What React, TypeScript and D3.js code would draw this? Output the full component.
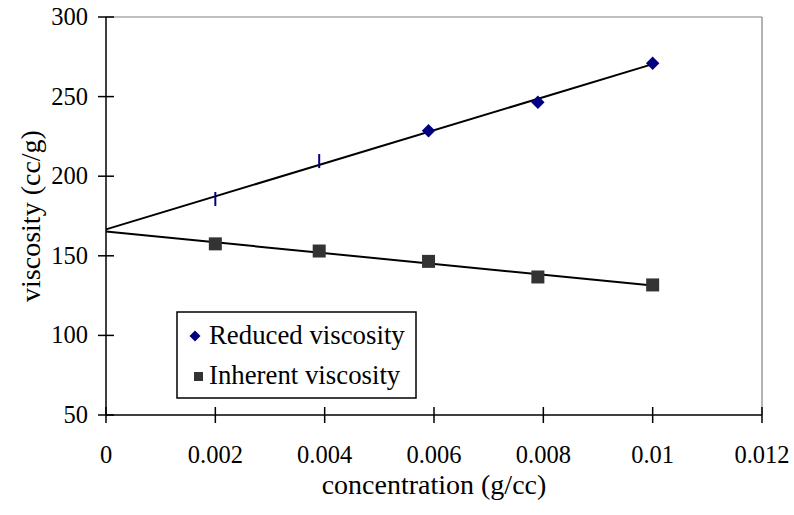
import React from "react";
import * as d3 from "d3";

const concentration = [0.002, 0.0039, 0.0059, 0.0079, 0.01];
const reducedViscosity = [185.7, 209.5, 228.5, 246.5, 271];
const inherentViscosity = [157.5, 153, 146.5, 136.7, 131.7];
const xTicks = [0, 0.002, 0.004, 0.006, 0.008, 0.01, 0.012];
const yTicks = [50, 100, 150, 200, 250, 300];
const seriesNames = ["Reduced viscosity", "Inherent viscosity"];

const W = 794;
const H = 515;
const FONT = "'Liberation Serif', 'Times New Roman', serif";

function fit(xs: number[], ys: number[]) {
  const mx = d3.mean(xs)!;
  const my = d3.mean(ys)!;
  let num = 0;
  let den = 0;
  xs.forEach((x, i) => {
    num += (x - mx) * (ys[i] - my);
    den += (x - mx) * (x - mx);
  });
  const b = num / den;
  return { a: my - b * mx, b };
}

export default function App() {
  const x = d3.scaleLinear().domain([0, 0.012]).range([106, 762]);
  const y = d3.scaleLinear().domain([50, 300]).range([415, 17]);

  const fr = fit(concentration, reducedViscosity);
  const fi = fit(concentration, inherentViscosity);
  const x0 = 0;
  const x1 = d3.max(concentration)!;
  const line = d3
    .line<[number, number]>()
    .x((d) => x(d[0]))
    .y((d) => y(d[1]));

  const diamond = d3.symbol().type(d3.symbolDiamond2);

  return (
    <svg
      width={W}
      height={H}
      style={{ position: "absolute", left: 0, top: 0, background: "#fff" }}
      fontFamily={FONT}
    >
      {/* plot border (top & right) */}
      <line x1={x(0)} x2={x(0.012)} y1={y(300)} y2={y(300)} stroke="#808080" strokeWidth={1.2} />
      <line x1={x(0.012)} x2={x(0.012)} y1={y(300)} y2={y(50)} stroke="#808080" strokeWidth={1.2} />

      {/* axes */}
      <line x1={x(0)} x2={x(0.012)} y1={y(50)} y2={y(50)} stroke="#000" strokeWidth={1.5} />
      <line x1={x(0)} x2={x(0)} y1={y(300)} y2={y(50)} stroke="#000" strokeWidth={1.5} />

      {xTicks.map((t) => (
        <g key={"xt" + t}>
          <line x1={x(t)} x2={x(t)} y1={y(50) - 8} y2={y(50) + 8} stroke="#000" strokeWidth={1.5} />
          <text x={x(t)} y={463} textAnchor="middle" fontSize={24.5}>
            {String(t)}
          </text>
        </g>
      ))}
      {yTicks.map((t) => (
        <g key={"yt" + t}>
          <line x1={x(0) - 8} x2={x(0) + 8} y1={y(t)} y2={y(t)} stroke="#000" strokeWidth={1.5} />
          <text x={88} y={y(t) + 8} textAnchor="end" fontSize={24.5}>
            {String(t)}
          </text>
        </g>
      ))}

      <text x={434} y={494} textAnchor="middle" fontSize={28}>
        concentration (g/cc)
      </text>
      <text
        transform={`translate(40, ${(y(300) + y(50)) / 2}) rotate(-90)`}
        textAnchor="middle"
        fontSize={28}
      >
        viscosity (cc/g)
      </text>

      {/* trend lines */}
      <path
        d={line([
          [x0, fr.a + fr.b * x0],
          [x1, fr.a + fr.b * x1],
        ])!}
        stroke="#000"
        strokeWidth={2}
        fill="none"
      />
      <path
        d={line([
          [x0, fi.a + fi.b * x0],
          [x1, fi.a + fi.b * x1],
        ])!}
        stroke="#000"
        strokeWidth={2}
        fill="none"
      />

      {/* reduced viscosity markers */}
      {concentration.map((c, i) =>
        i < 2 ? (
          <line
            key={"r" + i}
            x1={x(c)}
            x2={x(c)}
            y1={y(reducedViscosity[i]) - 7}
            y2={y(reducedViscosity[i]) + 7}
            stroke="#000080"
            strokeWidth={2}
          />
        ) : (
          <path
            key={"r" + i}
            d={diamond.size(115)()!}
            transform={`translate(${x(c)}, ${y(reducedViscosity[i])})`}
            fill="#000080"
          />
        )
      )}
      {/* inherent viscosity markers */}
      {concentration.map((c, i) => (
        <rect
          key={"n" + i}
          x={x(c) - 6.5}
          y={y(inherentViscosity[i]) - 6.5}
          width={13}
          height={13}
          fill="#333333"
        />
      ))}

      {/* legend */}
      <rect x={177} y={312} width={239} height={86} fill="#fff" stroke="#000" strokeWidth={1.5} />
      <path d={diamond.size(77)()!} transform="translate(195, 336)" fill="#000080" />
      <text x={209} y={344} fontSize={26.8}>
        {seriesNames[0]}
      </text>
      <rect x={194} y={372} width={9} height={9} fill="#333333" />
      <text x={209} y={384} fontSize={26.8}>
        {seriesNames[1]}
      </text>
    </svg>
  );
}
